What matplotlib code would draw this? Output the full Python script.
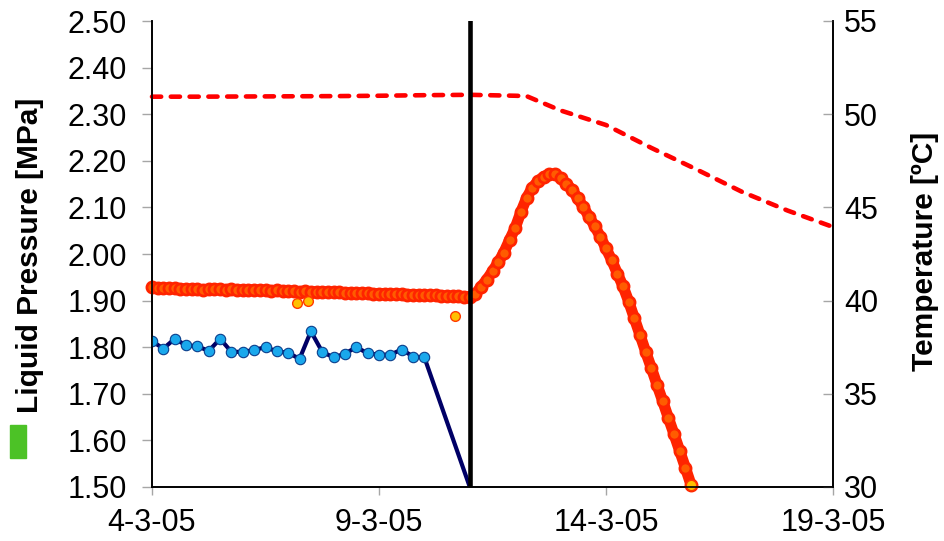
import matplotlib
matplotlib.use('Agg')
import matplotlib.pyplot as plt
import matplotlib.dates as mdates
from matplotlib.patches import Rectangle
import numpy as np
import pandas as pd

plt.rcParams['font.family'] = ['Liberation Sans', 'DejaVu Sans']

start = pd.Timestamp('2005-03-04')

# liquid pressure, 6-hourly readings (days after 4-3-05)
blue_days = [0, 0.25, 0.5, 0.75, 1, 1.25, 1.5, 1.75, 2, 2.25, 2.5, 2.75, 3,
             3.25, 3.5, 3.75, 4, 4.25, 4.5, 4.75, 5, 5.25, 5.5, 5.75, 6, 7]
blue_mpa = [1.813, 1.797, 1.818, 1.804, 1.802, 1.792, 1.818, 1.790, 1.790,
            1.794, 1.800, 1.791, 1.788, 1.775, 1.834, 1.790, 1.778, 1.786,
            1.800, 1.787, 1.784, 1.784, 1.795, 1.780, 1.778, 1.50]

# dense red series, 3-hourly
red_days = np.arange(0, 11.876, 0.125)
red_mpa = [1.929, 1.927, 1.927, 1.926, 1.926, 1.925, 1.925, 1.924, 1.924,
           1.923, 1.924, 1.925, 1.924, 1.923, 1.924, 1.923, 1.923, 1.922,
           1.923, 1.922, 1.922, 1.921, 1.922, 1.921, 1.920, 1.920, 1.919,
           1.920, 1.919, 1.919, 1.918, 1.919, 1.918, 1.918, 1.917, 1.917,
           1.917, 1.916, 1.916, 1.915, 1.915, 1.915, 1.914, 1.914, 1.914,
           1.913, 1.913, 1.912, 1.912, 1.911, 1.911, 1.910, 1.910, 1.909,
           1.909, 1.908, 1.908,
           1.914, 1.930, 1.945, 1.963, 1.982, 2.003, 2.030, 2.056, 2.090,
           2.120, 2.142, 2.156, 2.166, 2.171, 2.171, 2.163, 2.150, 2.138,
           2.120, 2.101, 2.080, 2.060, 2.037, 2.012, 1.987, 1.958, 1.931,
           1.898, 1.862, 1.826, 1.790, 1.755, 1.719, 1.684, 1.648, 1.613,
           1.577, 1.541, 1.504]
outlier_days = [3.19, 3.43, 6.67]
outlier_mpa = [1.894, 1.899, 1.868]

# temperature
temp_days = [0, 1, 2, 3, 4, 5, 6, 7, 8, 8.25, 9, 10, 11, 12, 13, 14, 15]
temp_c = [50.94, 50.94, 50.95, 50.96, 50.97, 50.99, 51.02, 51.04, 50.99,
          50.97, 50.2, 49.42, 48.19, 47.03, 45.83, 44.83, 43.95]

event_day = 7
xtick_days = [0, 5, 10, 15]


def to_dates(days):
    return [start + pd.Timedelta(days=float(d)) for d in days]


fig = plt.figure(figsize=(9.44, 5.41), dpi=100)
ax = fig.add_axes([152 / 944, 1 - 487 / 541, 681 / 944, 466 / 541])
ax2 = ax.twinx()

ax.plot(to_dates(red_days), red_mpa, color='#FF2400', lw=8, zorder=2,
        solid_capstyle='round')
ax.plot(to_dates(red_days), red_mpa, ls='none', marker='o', ms=8,
        mfc='#FF5C00', mec='#FF2400', mew=2.0, zorder=3, clip_on=False)
ax.plot(to_dates(red_days[-1:]), red_mpa[-1:], ls='none', marker='o', ms=7.5,
        mfc='#FFC000', mec='#FF3A00', mew=1.0, zorder=3, clip_on=False)
ax.plot(to_dates(outlier_days), outlier_mpa, ls='none', marker='o', ms=7,
        mfc='#FFC000', mec='#FF3A00', mew=1.0, zorder=3)

ax.plot(to_dates(blue_days), blue_mpa, color='#000066', lw=3, zorder=4,
        marker='o', ms=7.5, mfc='#1AA8EC', mec='#0A3E8C', mew=0.8,
        markevery=list(range(len(blue_days) - 1)))

ax2.plot(to_dates(temp_days), temp_c, color='#FF0000', lw=3.3,
         ls=(0, (2.0, 2.1)), dash_capstyle='round', clip_on=False)
ax2.axvline(to_dates([event_day])[0], color='black', lw=3.3, zorder=5)

ax.set_ylim(1.5, 2.5)
ax.set_yticks(np.arange(1.5, 2.51, 0.1))
ax.yaxis.set_major_formatter(plt.FormatStrFormatter('%.2f'))
ax2.set_ylim(30, 55)
ax2.set_yticks(range(30, 56, 5))
ax.set_xlim(to_dates([0])[0], to_dates([15])[0])
ax.set_xticks(to_dates(xtick_days))
ax.xaxis.set_major_formatter(mdates.DateFormatter('%-d-%-m-%y'))

for a in (ax, ax2):
    a.spines['top'].set_visible(False)
    for s in ('left', 'right', 'bottom'):
        a.spines[s].set_linewidth(1.2)
        a.spines[s].set_color('black')

ax.tick_params(axis='y', direction='out', length=7, width=1, color='#A6A6A6',
               labelsize=22, pad=11)
ax.tick_params(axis='x', direction='out', length=6, width=1, color='#A6A6A6',
               labelsize=22, pad=9)
ax2.tick_params(axis='y', direction='in', length=7, width=1, color='#A6A6A6',
                labelsize=22, pad=8)

ax.set_ylabel('Liquid Pressure [MPa]', fontsize=21.5, fontweight='bold')
ax.yaxis.set_label_coords(-0.159, 0.496)
ax2.set_ylabel('Temperature [ºC]', fontsize=21.5, fontweight='bold', rotation=90)
ax2.yaxis.set_label_coords(1.115, 0.505)

fig.patches.append(Rectangle((10 / 944, 1 - 458 / 541), 16 / 944, 33 / 541,
                             transform=fig.transFigure, color='#4CC226'))

fig.savefig('out.png', dpi=100)
